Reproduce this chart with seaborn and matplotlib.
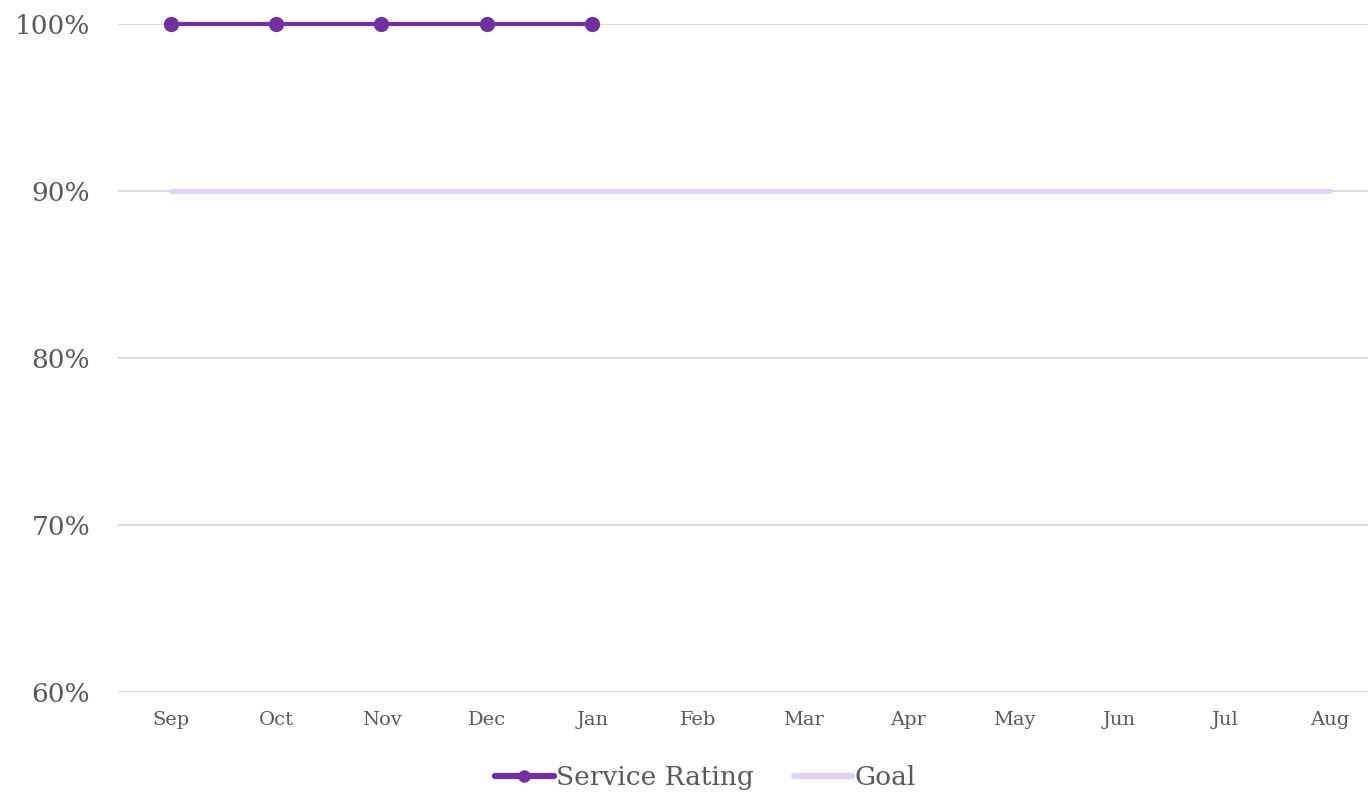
import numpy as np
import pandas as pd
import matplotlib
matplotlib.use("Agg")
import matplotlib.pyplot as plt
import seaborn as sns

months = ["Sep", "Oct", "Nov", "Dec", "Jan", "Feb", "Mar", "Apr", "May", "Jun", "Jul", "Aug"]
service_rating = [1.00, 1.00, 1.00, 1.00, 1.00, np.nan, np.nan, np.nan, np.nan, np.nan, np.nan, np.nan]
goal = [0.90] * 12
y_ticks = [0.6, 0.7, 0.8, 0.9, 1.0]

sns.set_theme(style="white")
plt.rcParams["font.family"] = ["DejaVu Serif"]

df = pd.DataFrame({"month": months, "pos": range(len(months)),
                   "Service Rating": service_rating, "Goal": goal})

fig = plt.figure(figsize=(13.68, 7.95), dpi=100)
ax = fig.add_axes([118 / 1368, 103 / 795, 1 - 118 / 1368, (692 - 24) / 795])

sns.lineplot(data=df, x="pos", y="Goal", ax=ax, color="#E1D3F1", linewidth=3.6,
             label="Goal", zorder=2)
sns.lineplot(data=df, x="pos", y="Service Rating", ax=ax, color="#7030A0", linewidth=3.0,
             marker="o", markersize=11, markeredgewidth=0, label="Service Rating",
             zorder=3, clip_on=False)

ax.set_ylim(0.6, 1.0)
ax.set_xlim(-0.5, (1368 - 171) / ((1330 - 171) / 11))
ax.set_yticks(y_ticks)
ax.set_yticklabels([f"{int(round(v * 100))}%" for v in y_ticks], fontsize=19, color="#595959")
ax.set_xticks(range(len(months)))
ax.set_xticklabels(months, fontsize=14, color="#595959")
ax.tick_params(axis="both", length=0)
ax.tick_params(axis="x", pad=14)
ax.tick_params(axis="y", pad=20)
ax.set_xlabel("")
ax.set_ylabel("")
ax.grid(axis="y", color="#D9D9D9", linewidth=1.3)
for s in ax.spines.values():
    s.set_visible(False)

handles, labels = ax.get_legend_handles_labels()
order = [labels.index("Service Rating"), labels.index("Goal")]
leg = ax.legend([handles[i] for i in order], [labels[i] for i in order],
                loc="center", bbox_to_anchor=(0.47, -0.128), ncol=2, frameon=False,
                fontsize=19, labelcolor="#595959", handlelength=2.2, handletextpad=0.1,
                columnspacing=1.5)
for line in leg.get_lines():
    line.set_linewidth(4.5)
leg.get_lines()[0].set_markersize(9)

fig.savefig("out.png", dpi=100)
